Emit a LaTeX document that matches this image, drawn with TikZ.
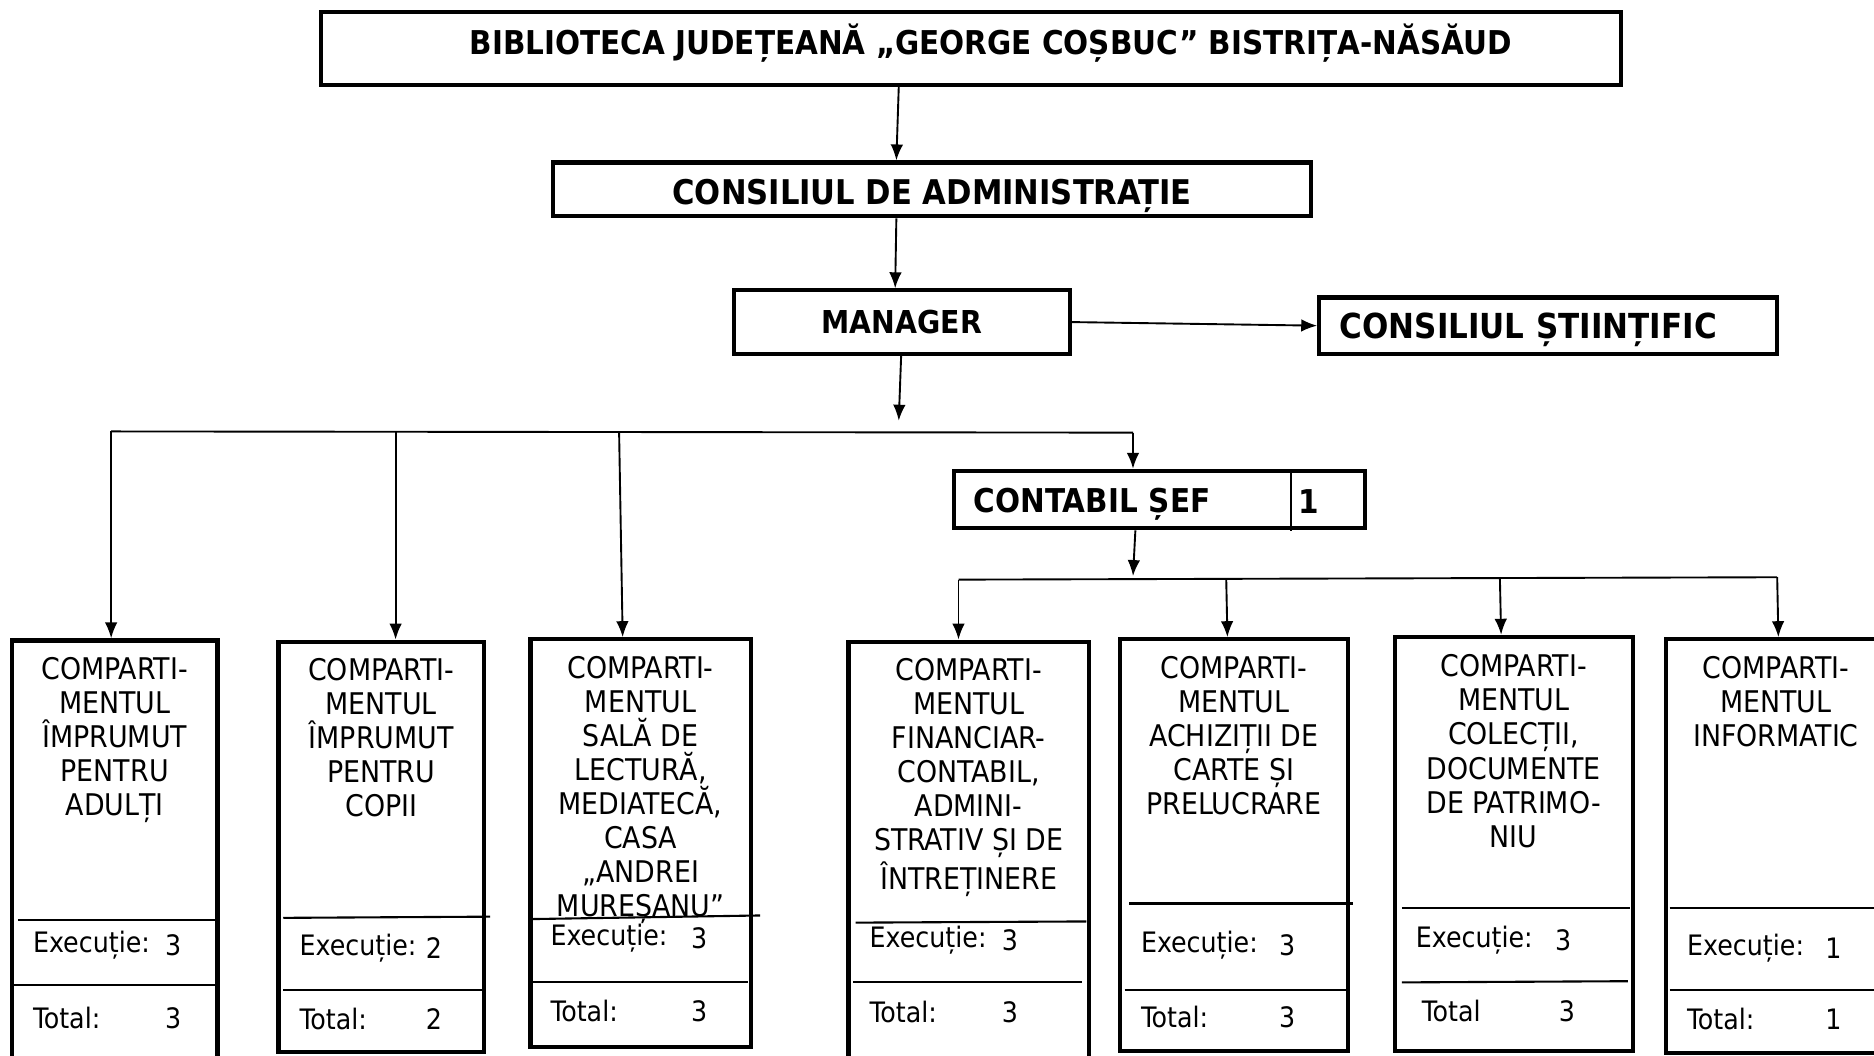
\documentclass[tikz,border=0pt]{standalone}
\usepackage{fontspec}
\setmainfont{DejaVu Sans Condensed}
\usepackage{tikz}
\usetikzlibrary{arrows.meta , calc}

\begin{document}
\begin{tikzpicture}[x = 0.01cm , y = -0.01cm ,
    cutie/.style = {draw , line width = 1pt , inner sep = 0pt , text height = 5.6pt , text depth = 0pt , font = \bfseries\fontsize{7.8}{9}\selectfont},
    dept/.style = {draw , line width = 1pt , inner sep = 0pt},
    titlu/.style = {anchor = north , inner sep = 0pt , align = center , font = \fontsize{7.1}{8.1}\selectfont},
    cifra/.style = {inner sep = 0pt , font = \fontsize{6.7}{8.1}\selectfont},
    rand/.style = {line width = 0.5pt},
    linie/.style = {line width = 0.45pt},
    sageata/.style = {line width = 0.45pt , -{Latex[length = 3.8pt , width = 3pt]}}]
    \useasboundingbox (0,0) rectangle (1568,883);
    % Nivel superior
    \node[cutie , text depth = 2.6pt , minimum width = 10.87cm , minimum height = 0.61cm] (bib) at (812.5,40.5) {\hspace*{0.33cm}BIBLIOTECA JUDEȚEANĂ „GEORGE COȘBUC” BISTRIȚA-NĂSĂUD};
    \node[cutie , text height = 7pt , font = \bfseries\fontsize{8.1}{9}\selectfont , minimum width = 6.34cm , minimum height = 0.45cm] (consiliu) at (780,158.5) {CONSILIUL DE ADMINISTRAȚIE};
    \node[cutie , font = \bfseries\fontsize{7.5}{9}\selectfont , minimum width = 2.81cm , minimum height = 0.53cm] (manager) at (754.5,269.5) {MANAGER};
    \node[cutie , text height = 6.2pt , font = \bfseries\fontsize{8.2}{9}\selectfont , text width = 3.49cm , inner xsep = 0.17cm , align = left , minimum height = 0.47cm] (stiintific) at (1295.5,272.5) {CONSILIUL ȘTIINȚIFIC};
    \node[cutie , text height = 6.2pt , text width = 3.10cm , inner xsep = 0.17cm , align = left , minimum height = 0.48cm] (contabil) at (970,418) {CONTABIL ȘEF};
    \draw[linie] (1080,396) -- (1080,444); % Despartitor
    \node[cutie , draw = none , anchor = west] (contabilnr) at (1085,420) {1};

    \draw[sageata] ($(bib.south)+(-60.5,0)$) -- ($(consiliu.north)+(-30,0)$);
    \draw[sageata] ($(consiliu.south)+(-30,0)$) -- ($(manager.north)+(-5.5,0)$);
    \draw[sageata] (manager.east) -- (stiintific.west);
    \coordinate (m1) at (752,352);
    \draw[sageata] ($(manager.south)+(-0.5,0)$) -- (m1);

    % Bara 1
    \coordinate (b1) at (93,361);
    \coordinate (b2) at (331,361);
    \coordinate (b3) at (518,361);
    \coordinate (b4) at (948,362);
    \draw[linie] (b1) -- (b4);

    % Bara 2
    \coordinate (c1) at (948,482);
    \coordinate (c2) at (802,485);
    \coordinate (c3) at (1026,484);
    \coordinate (c4) at (1255,484);
    \coordinate (c5) at (1487,483);
    \draw[sageata] ($(contabil.south)+(-20,0)$) -- (c1);
    \draw[linie] (c2) -- (c5);

    % Compartimente
    \node[dept , minimum width = 1.72cm , minimum height = 3.57cm] (d1) at (96,714.5) {};
    \node[dept , minimum width = 1.72cm , minimum height = 3.43cm] (d2) at (319,708.5) {};
    \node[dept , minimum width = 1.84cm , minimum height = 3.41cm] (d3) at (536,705.5) {};
    \node[dept , minimum width = 2.01cm , minimum height = 3.56cm] (d4) at (810.5,715) {};
    \node[dept , minimum width = 1.91cm , minimum height = 3.44cm] (d5) at (1032.5,707) {};
    \node[dept , minimum width = 1.99cm , minimum height = 3.46cm] (d6) at (1266.5,706) {};
    \node[dept , minimum width = 1.84cm , minimum height = 3.46cm] (d7) at (1486,708) {};

    \draw[sageata] (b1) -- (d1.north -| b1);
    \draw[sageata] (b2) -- (d2.north -| b2);
    \draw[sageata] (b3) -- ($(d3.north)+(-15,0)$);
    \draw[sageata] (b4) -- (contabil.north -| b4);
    \draw[sageata] (c2) -- (d4.north -| c2);
    \draw[sageata] (c3) -- ($(d5.north)+(-5.5,0)$);
    \draw[sageata] (c4) -- ($(d6.north)+(-10.5,0)$);
    \draw[sageata] (c5) -- ($(d7.north)+(2,0)$);

    \node[titlu] (n1) at ($(d1.north)+(0,15)$) {COMPARTI-\\MENTUL\\ÎMPRUMUT\\PENTRU\\ADULȚI};
    \node[titlu] (n2) at ($(d2.north)+(0,15)$) {COMPARTI-\\MENTUL\\ÎMPRUMUT\\PENTRU\\COPII};
    \node[titlu] (n3) at ($(d3.north)+(0,15)$) {COMPARTI-\\MENTUL\\SALĂ DE\\LECTURĂ,\\MEDIATECĂ,\\CASA\\„ANDREI\\MUREȘANU”};
    \node[titlu] (n4) at ($(d4.north)+(0,15)$) {COMPARTI-\\MENTUL\\FINANCIAR-\\CONTABIL,\\ADMINI-\\STRATIV ȘI DE\\ÎNTREȚINERE};
    \node[titlu] (n5) at ($(d5.north)+(0,15)$) {COMPARTI-\\MENTUL\\ACHIZIȚII DE\\CARTE ȘI\\PRELUCRARE};
    \node[titlu] (n6) at ($(d6.north)+(0,16)$) {COMPARTI-\\MENTUL\\COLECȚII,\\DOCUMENTE\\DE PATRIMO-\\NIU};
    \node[titlu] (n7) at ($(d7.north)+(0,15)$) {COMPARTI-\\MENTUL\\INFORMATIC};

    % Linii despartitoare
    \draw[rand] (15,770) -- (180,770);
    \draw[rand] (12,824) -- (180,824);
    \draw[rand] (237,768) -- (410,767);
    \draw[rand] (237,828) -- (403,828);
    \draw[rand] (446,769) -- (636,766);
    \draw[rand] (446,822) -- (626,822);
    \draw[rand] (716,772) -- (909,771);
    \draw[rand] (714,822) -- (905,822);
    \draw[rand] (945,756) -- (1132,756);
    \draw[rand] (941,828) -- (1128,828);
    \draw[rand] (1173,760) -- (1364,760);
    \draw[rand] (1173,822) -- (1362,821);
    \draw[rand] (1397,760) -- (1568,760);
    \draw[rand] (1397,828) -- (1568,828);

    % Executie si total
    \node[cifra , anchor = west] (e1) at (27,791) {Execuție:};
    \node[cifra] (e1n) at (145,791) {3};
    \node[cifra , anchor = west] (t1) at (27,852) {Total:};
    \node[cifra] (t1n) at (145,852) {3};
    \node[cifra , anchor = west] (e2) at (250,793) {Execuție:};
    \node[cifra] (e2n) at (363,793) {2};
    \node[cifra , anchor = west] (t2) at (250,853) {Total:};
    \node[cifra] (t2n) at (363,853) {2};
    \node[cifra , anchor = west] (e3) at (460,785) {Execuție:};
    \node[cifra] (e3n) at (585,785) {3};
    \node[cifra , anchor = west] (t3) at (460,846) {Total:};
    \node[cifra] (t3n) at (585,846) {3};
    \node[cifra , anchor = west] (e4) at (727,787) {Execuție:};
    \node[cifra] (e4n) at (845,787) {3};
    \node[cifra , anchor = west] (t4) at (727,847) {Total:};
    \node[cifra] (t4n) at (845,847) {3};
    \node[cifra , anchor = west] (e5) at (954,791) {Execuție:};
    \node[cifra] (e5n) at (1077,791) {3};
    \node[cifra , anchor = west] (t5) at (954,851) {Total:};
    \node[cifra] (t5n) at (1077,851) {3};
    \node[cifra , anchor = west] (e6) at (1184,787) {Execuție:};
    \node[cifra] (e6n) at (1308,787) {3};
    \node[cifra , anchor = west] (t6) at (1189,846) {Total};
    \node[cifra] (t6n) at (1311,846) {3};
    \node[cifra , anchor = west] (e7) at (1411,793) {Execuție:};
    \node[cifra] (e7n) at (1534,793) {1};
    \node[cifra , anchor = west] (t7) at (1411,853) {Total:};
    \node[cifra] (t7n) at (1534,853) {1};
\end{tikzpicture}
\end{document}
